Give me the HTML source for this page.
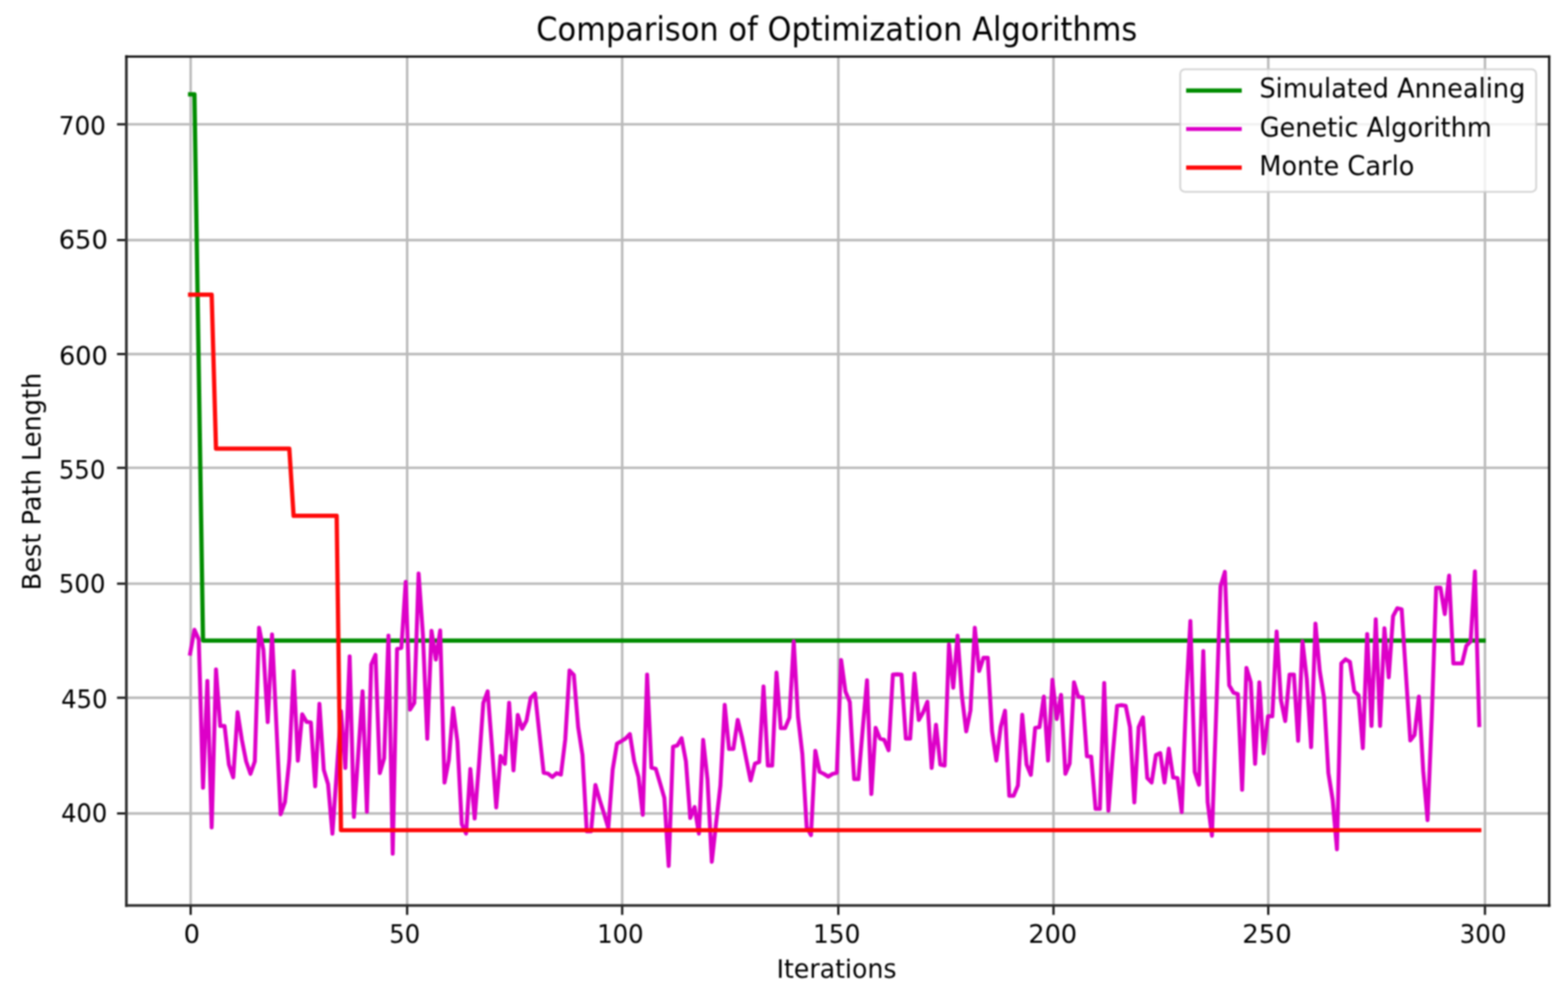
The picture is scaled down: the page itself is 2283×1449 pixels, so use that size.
<!DOCTYPE html>
<html lang="en"><head><meta charset="utf-8"><title>Comparison of Optimization Algorithms</title>
<style>
html,body{margin:0;padding:0;background:#fff;}
body{width:2283px;height:1449px;overflow:hidden;}
svg{display:block;font-family:"DejaVu Sans", "Liberation Sans", sans-serif;filter:blur(0.8px);}
text{fill:#000000;}
</style></head><body>
<svg width="2283" height="1449" viewBox="0 0 2283 1449">
<rect x="-10" y="-10" width="2303" height="1469" fill="#ffffff"/>
<g stroke="#bababa" stroke-width="3.6" fill="none">
<line x1="277.6" y1="82.4" x2="277.6" y2="1318.7"/>
<line x1="592.8" y1="82.4" x2="592.8" y2="1318.7"/>
<line x1="905.9" y1="82.4" x2="905.9" y2="1318.7"/>
<line x1="1220.6" y1="82.4" x2="1220.6" y2="1318.7"/>
<line x1="1533.9" y1="82.4" x2="1533.9" y2="1318.7"/>
<line x1="1846.6" y1="82.4" x2="1846.6" y2="1318.7"/>
<line x1="2162.1" y1="82.4" x2="2162.1" y2="1318.7"/>
<line x1="184.0" y1="181.0" x2="2255.6" y2="181.0"/>
<line x1="184.0" y1="349.6" x2="2255.6" y2="349.6"/>
<line x1="184.0" y1="515.6" x2="2255.6" y2="515.6"/>
<line x1="184.0" y1="681.3" x2="2255.6" y2="681.3"/>
<line x1="184.0" y1="850.0" x2="2255.6" y2="850.0"/>
<line x1="184.0" y1="1016.1" x2="2255.6" y2="1016.1"/>
<line x1="184.0" y1="1184.6" x2="2255.6" y2="1184.6"/>
</g>
<clipPath id="ax"><rect x="184.0" y="82.4" width="2071.6" height="1236.3"/></clipPath>
<g clip-path="url(#ax)" fill="none" stroke-linejoin="round" stroke-linecap="square">
<polyline stroke="#008c00" stroke-width="6.2" points="276.8,137.3 283.1,137.3 295.6,932.8 2160.1,932.8"/>
<polyline stroke="#dd00c8" stroke-width="5.8" points="276.8,951.9 283.1,917.2 289.4,931.3 295.6,1147.2 301.9,991.6 308.2,1204.9 314.5,974.9 320.7,1057.2 327.0,1057.2 333.3,1113.4 339.6,1132.0 345.9,1037.1 352.1,1077.0 358.4,1108.9 364.7,1126.9 371.0,1108.9 377.2,914.1 383.5,946.4 389.8,1051.6 396.1,923.9 402.4,1055.7 408.6,1185.8 414.9,1168.0 421.2,1107.3 427.5,977.3 433.7,1107.8 440.0,1040.1 446.3,1051.2 452.6,1052.1 458.9,1145.1 465.1,1024.9 471.4,1121.0 477.7,1142.2 484.0,1214.0 490.2,1125.5 496.5,1035.6 502.8,1118.4 509.1,956.0 515.3,1189.7 521.6,1098.0 527.9,1006.7 534.2,1182.1 540.5,967.7 546.7,953.6 553.0,1125.9 559.3,1104.3 565.6,925.7 571.8,1243.1 578.1,945.0 584.4,943.4 590.7,847.4 597.0,1033.4 603.2,1023.8 609.5,835.2 615.8,925.0 622.1,1075.9 628.3,918.7 634.6,960.5 640.9,918.1 647.2,1139.6 653.5,1107.0 659.7,1031.1 666.0,1080.0 672.3,1200.0 678.6,1213.9 684.8,1120.0 691.1,1191.9 697.4,1113.0 703.7,1023.8 710.0,1006.7 716.2,1086.0 722.5,1175.9 728.8,1100.8 735.1,1112.3 741.3,1023.4 747.6,1121.9 753.9,1041.1 760.2,1061.3 766.5,1049.7 772.7,1016.3 779.0,1009.8 785.3,1068.0 791.6,1125.5 797.8,1126.5 804.1,1131.6 810.4,1126.0 816.7,1128.0 823.0,1077.0 829.2,976.4 835.5,982.9 841.8,1058.8 848.1,1099.7 854.3,1210.5 860.6,1210.5 866.9,1143.1 873.2,1165.0 879.4,1184.7 885.7,1205.8 892.0,1121.0 898.3,1083.0 904.6,1079.4 910.8,1075.5 917.1,1069.0 923.4,1108.8 929.7,1131.6 935.9,1186.7 942.2,982.4 948.5,1118.0 954.8,1119.5 961.1,1140.7 967.3,1162.0 973.6,1261.1 979.9,1087.6 986.2,1085.5 992.4,1075.0 998.7,1108.8 1005.0,1191.2 1011.3,1175.2 1017.6,1214.0 1023.8,1077.5 1030.1,1134.7 1036.4,1255.0 1042.7,1198.4 1048.9,1143.8 1055.2,1026.5 1061.5,1090.6 1067.8,1090.6 1074.1,1048.3 1080.3,1073.9 1086.6,1105.8 1092.9,1136.6 1099.2,1111.9 1105.4,1109.8 1111.7,999.7 1118.0,1114.9 1124.3,1114.9 1130.6,979.4 1136.8,1060.3 1143.1,1060.3 1149.4,1045.1 1155.7,933.9 1161.9,1043.6 1168.2,1098.2 1174.5,1204.5 1180.8,1216.1 1187.1,1093.3 1193.3,1124.0 1199.6,1127.0 1205.9,1131.0 1212.2,1127.0 1218.4,1125.5 1224.7,961.2 1231.0,1007.1 1237.3,1022.3 1243.6,1134.7 1249.8,1134.7 1256.1,1061.8 1262.4,990.6 1268.7,1156.3 1274.9,1059.9 1281.2,1075.5 1287.5,1077.6 1293.8,1092.6 1300.0,982.3 1306.3,982.0 1312.6,982.3 1318.9,1075.5 1325.2,1075.5 1331.4,980.9 1337.7,1048.6 1344.0,1037.5 1350.3,1021.9 1356.5,1118.4 1362.8,1055.3 1369.1,1113.4 1375.4,1114.9 1381.7,938.4 1387.9,1001.5 1394.2,925.7 1400.5,1013.2 1406.8,1065.2 1413.0,1034.5 1419.3,914.1 1425.6,977.2 1431.9,958.0 1438.2,958.0 1444.4,1064.8 1450.7,1107.7 1457.0,1058.8 1463.3,1035.0 1469.5,1158.9 1475.8,1158.9 1482.1,1143.8 1488.4,1041.0 1494.7,1113.4 1500.9,1128.4 1507.2,1060.0 1513.5,1058.8 1519.8,1014.3 1526.0,1107.7 1532.3,990.0 1538.6,1047.0 1544.9,1011.9 1551.2,1126.9 1557.4,1111.9 1563.7,993.7 1570.0,1014.7 1576.3,1015.6 1582.5,1101.3 1588.8,1101.9 1595.1,1177.8 1601.4,1177.8 1607.7,994.6 1613.9,1180.6 1620.2,1098.2 1626.5,1027.8 1632.8,1026.9 1639.0,1027.8 1645.3,1058.8 1651.6,1168.5 1657.9,1058.8 1664.1,1044.7 1670.4,1133.1 1676.7,1139.6 1683.0,1099.7 1689.3,1096.7 1695.5,1139.6 1701.8,1090.2 1708.1,1132.2 1714.4,1133.1 1720.6,1182.7 1726.9,1019.3 1733.2,904.4 1739.5,1124.0 1745.8,1142.7 1752.0,948.1 1758.3,1168.0 1764.6,1217.0 1770.9,1034.5 1777.1,853.8 1783.4,832.8 1789.7,998.0 1796.0,1008.7 1802.3,1010.8 1808.5,1150.2 1814.8,972.7 1821.1,993.5 1827.4,1112.3 1833.6,993.7 1839.9,1097.1 1846.2,1043.0 1852.5,1043.0 1858.8,919.6 1865.0,1019.3 1871.3,1050.1 1877.6,982.3 1883.9,982.3 1890.1,1078.9 1896.4,933.9 1902.7,989.0 1909.0,1088.0 1915.3,908.1 1921.5,976.8 1927.8,1016.3 1934.1,1125.6 1940.4,1165.0 1946.6,1236.8 1952.9,966.2 1959.2,960.1 1965.5,964.0 1971.8,1006.6 1978.0,1012.6 1984.3,1089.5 1990.6,923.3 1996.9,1057.1 2003.1,902.0 2009.4,1057.1 2015.7,914.8 2022.0,986.3 2028.3,897.3 2034.5,885.7 2040.8,887.2 2047.1,982.9 2053.4,1078.3 2059.6,1070.3 2065.9,1014.3 2072.2,1122.5 2078.5,1194.3 2084.7,1043.6 2091.0,856.0 2097.3,856.0 2103.6,894.3 2109.9,838.2 2116.1,966.2 2122.4,966.2 2128.7,966.2 2135.0,940.4 2141.2,934.3 2147.5,832.2 2153.8,1056.0"/>
<polyline stroke="#ff0a0a" stroke-width="6.2" points="276.8,429.1 308.2,429.1 314.5,653.3 421.2,653.3 427.5,751.2 490.2,751.2 496.5,1209.0 2153.8,1209.0"/>
</g>
<g stroke="#141414" stroke-width="3.2" fill="none">
<line x1="277.6" y1="1318.7" x2="277.6" y2="1332.3"/>
<line x1="592.8" y1="1318.7" x2="592.8" y2="1332.3"/>
<line x1="905.9" y1="1318.7" x2="905.9" y2="1332.3"/>
<line x1="1220.6" y1="1318.7" x2="1220.6" y2="1332.3"/>
<line x1="1533.9" y1="1318.7" x2="1533.9" y2="1332.3"/>
<line x1="1846.6" y1="1318.7" x2="1846.6" y2="1332.3"/>
<line x1="2162.1" y1="1318.7" x2="2162.1" y2="1332.3"/>
<line x1="170.4" y1="181.0" x2="184.0" y2="181.0"/>
<line x1="170.4" y1="349.6" x2="184.0" y2="349.6"/>
<line x1="170.4" y1="515.6" x2="184.0" y2="515.6"/>
<line x1="170.4" y1="681.3" x2="184.0" y2="681.3"/>
<line x1="170.4" y1="850.0" x2="184.0" y2="850.0"/>
<line x1="170.4" y1="1016.1" x2="184.0" y2="1016.1"/>
<line x1="170.4" y1="1184.6" x2="184.0" y2="1184.6"/>
</g>
<g fill="none" stroke-linecap="square">
<line x1="184.0" y1="82.4" x2="184.0" y2="1318.7" stroke="#333333" stroke-width="4.0"/>
<line x1="184.0" y1="1318.7" x2="2255.6" y2="1318.7" stroke="#2a2a2a" stroke-width="3.8"/>
<line x1="2255.6" y1="82.4" x2="2255.6" y2="1318.7" stroke="#141414" stroke-width="3.4"/>
<line x1="184.0" y1="82.4" x2="2255.6" y2="82.4" stroke="#141414" stroke-width="3.2"/>
</g>
<rect x="1718.4" y="100.8" width="518.3" height="178.6" rx="7.0" ry="7.0" fill="#ffffff" fill-opacity="0.8" stroke="#cccccc" stroke-opacity="0.8" stroke-width="2.8"/>
<g fill="none" stroke-linecap="butt">
<line x1="1727.0" y1="131.8" x2="1808.0" y2="131.8" stroke="#008c00" stroke-width="6.2"/>
<line x1="1727.0" y1="187.9" x2="1808.0" y2="187.9" stroke="#dd00c8" stroke-width="5.8"/>
<line x1="1727.0" y1="244.2" x2="1808.0" y2="244.2" stroke="#ff0a0a" stroke-width="6.2"/>
</g>
<text transform="translate(85.49,196.25) scale(0.9716,1.0)" font-size="37.1">700</text>
<text transform="translate(85.47,362.30) scale(1.0114,1.0)" font-size="37.1">650</text>
<text transform="translate(85.89,530.80) scale(1.0053,1.0)" font-size="37.1">600</text>
<text transform="translate(85.77,696.80) scale(0.9573,1.0)" font-size="37.1">550</text>
<text transform="translate(85.77,862.95) scale(0.9573,1.0)" font-size="37.1">500</text>
<text transform="translate(88.93,1031.30) scale(0.9564,1.0)" font-size="37.1">450</text>
<text transform="translate(88.94,1197.00) scale(0.9489,1.0)" font-size="37.1">400</text>
<text transform="translate(267.48,1373.20) scale(1.0000,1.0)" font-size="37.1">0</text>
<text transform="translate(566.67,1373.20) scale(0.9548,1.0)" font-size="37.1">50</text>
<text transform="translate(869.48,1373.20) scale(0.9541,1.0)" font-size="37.1">100</text>
<text transform="translate(1183.80,1373.20) scale(0.9743,1.0)" font-size="37.1">150</text>
<text transform="translate(1497.24,1373.20) scale(1.0031,1.0)" font-size="37.1">200</text>
<text transform="translate(1808.80,1373.20) scale(1.0183,1.0)" font-size="37.1">250</text>
<text transform="translate(2125.35,1373.20) scale(0.9618,1.0)" font-size="37.1">300</text>
<text transform="translate(1130.69,1424.40) scale(0.9883,1.0)" font-size="37.1">Iterations</text>
<text transform="translate(780.81,59.40) scale(0.9974,1.07)" font-size="44.5">Comparison of Optimization Algorithms</text>
<text transform="translate(1833.68,142.40) scale(1.0065,1.03)" font-size="37.1">Simulated Annealing</text>
<text transform="translate(1834.19,198.50) scale(1.0041,1.03)" font-size="37.1">Genetic Algorithm</text>
<text transform="translate(1833.42,254.80) scale(1.0080,1.03)" font-size="37.1">Monte Carlo</text>
<text transform="translate(59.3,859.67) rotate(-90) scale(1.0055,1.0)" font-size="37.1">Best Path Length</text>
</svg>
</body></html>
